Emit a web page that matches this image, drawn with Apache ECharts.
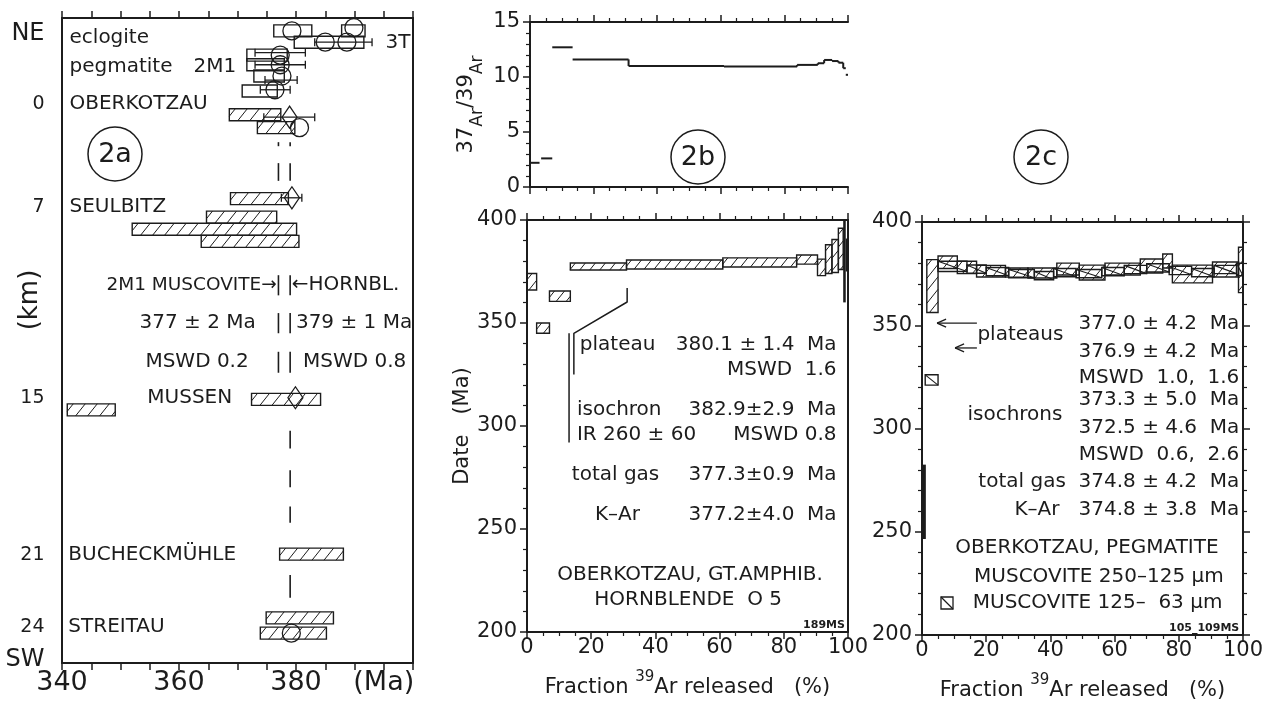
<!DOCTYPE html>
<html><head><meta charset="utf-8">
<script src="https://cdn.jsdelivr.net/npm/echarts/dist/echarts.min.js"></script>
<style>html,body{margin:0;padding:0;background:#fff}#c{width:1272px;height:710px}</style>
</head><body><div id="c"></div><script>
const FONT = 'DejaVu Sans';
const INK = '#1c1c1c';

// ---------- Panel 2a (age vs. position along profile) ----------
const maTicks = [340, 360, 380];
const kmLabels = ['NE', '0', '7', '15', '21', '24', 'SW'];
const kmRows = [1.9, 10.7, 23.4, 47.1, 66.6, 75.5, 79.6];
const stationNames = ['eclogite', 'pegmatite', '2M1', '3T', 'OBERKOTZAU', 'SEULBITZ', 'MUSSEN', 'BUCHECKMÜHLE', 'STREITAU'];
const stationAt = [[341.2, 2.5], [341.2, 6.1], [362.4, 6.1], [395.2, 3.1], [341.2, 10.7], [341.2, 23.4], [354.5, 47.1], [341.0, 66.6], [341.0, 75.5]];
// [age low, age high, row]
const openBoxes2a = [[376.2, 382.7, 1.6], [387.8, 391.8, 1.6], [379.7, 391.6, 3.0], [371.6, 378.5, 4.6], [371.6, 378.0, 5.8], [372.8, 378.0, 7.2], [370.8, 376.8, 9.05]];
const hatchBoxes2a = [[368.6, 377.4, 12.0], [373.4, 379.8, 13.6], [368.8, 378.7, 22.4], [364.7, 376.7, 24.7], [352.0, 380.1, 26.2], [363.8, 380.5, 27.7], [372.4, 384.2, 47.3], [340.9, 349.1, 48.6], [377.2, 388.1, 66.5], [374.9, 386.4, 74.4], [373.9, 385.2, 76.3]];
const errorBars2a = [[383.2, 393.0, 3.0], [373.0, 381.6, 4.3], [373.0, 381.6, 5.8], [374.7, 380.2, 7.7], [373.9, 379.0, 8.9], [374.5, 383.2, 12.3], [377.5, 381.0, 22.3]];
const circles2a = [[379.3, 1.6], [389.9, 1.2], [385.0, 3.0], [388.7, 3.0], [377.3, 4.6], [377.3, 5.8], [377.6, 7.2], [376.4, 8.9], [380.6, 13.6], [379.2, 76.3]];
const diamonds2a = [[378.9, 12.3], [379.3, 22.3], [379.9, 47.1]];
const muscoviteAge = 377, hornblendeAge = 379;
const muscoviteDashRows = [[15.4, 15.9], [18.0, 20.2], [31.9, 34.4], [36.6, 39.1], [41.4, 44.0]];
const hornblendeDashRows = [[15.4, 15.9], [18.0, 20.2], [31.9, 34.4], [36.6, 39.1], [41.4, 44.0], [51.2, 53.4], [56.1, 58.2], [60.6, 62.6], [69.1, 71.9]];

// ---------- Panel 2b (hornblende spectrum) ----------
// [fraction from, fraction to, 37Ar/39Ar]
const ratioSteps = [[0, 3, 2.2], [3.5, 7, 2.6], [7, 13.4, 12.7], [13.4, 31, 11.6], [31, 61, 11.0], [61, 84, 10.95], [84, 90.5, 11.1], [90.5, 92.5, 11.25], [92.5, 95, 11.55], [95, 97, 11.45], [97, 98.5, 11.3], [98.5, 99.3, 10.8], [99.3, 100, 10.2]];
// [fraction from, fraction to, date, half-height]
const hornblendeSteps = [[0, 3, 370, 4], [3, 7, 347.5, 2.5], [7, 13.5, 363, 2.5], [13.5, 31, 377.4, 1.7], [31, 61, 378.4, 2.2], [61, 84, 379.4, 2.2], [84, 90.5, 380.8, 2.2], [90.5, 93, 377, 4], [93, 95, 381, 7], [95, 97, 382.5, 8], [97, 98.5, 386, 10], [98.5, 99.3, 382, 22], [99.3, 100, 383, 8]];
const plateauBracket = [[31.2, 367], [31.2, 360.2], [14.6, 345], [14.6, 325]];
const isochronBracket = [[13.1, 345], [13.1, 292]];

// ---------- Panel 2c (muscovite spectra) ----------
const coarseSteps = [[0, 1.2, 264.5, 18], [1.5, 5, 369, 12.8], [5, 11, 380.5, 3], [11, 17, 378, 3], [17, 26, 376.2, 2.8], [26, 33, 375.5, 2.2], [33, 42, 375.3, 2.4], [42, 49, 377.2, 2.9], [49, 57, 375.5, 3.6], [57, 68, 377.2, 2.9], [68, 75, 378.7, 3.4], [75, 78, 381.1, 3.4], [78, 90.5, 374.8, 4.3], [90.5, 98.6, 377, 3.6], [98.6, 100, 376.8, 11]];
const fineSteps = [[1, 5, 323.5, 2.5], [5, 14, 378.5, 2.5], [14, 20, 377.2, 2], [20, 27, 376, 2], [27, 35, 375, 2], [35, 41, 374, 2], [41, 48, 375.5, 2], [48, 56, 375, 2], [56, 63, 376, 2], [63, 70, 377, 2], [70, 77, 377.8, 2], [77, 84, 376.5, 2], [84, 91, 375.5, 2], [91, 98, 377, 2], [98, 100, 377, 3]];
// [tail fraction, date, tip fraction]
const plateauArrows = [[17.1, 351, 4.7], [17.1, 339, 10.3]];

// ---------- drawing helpers ----------
function hatchLines(rx, ry, w, h, sp, k) {
  const out = [];
  const dx = h / k;
  for (let a = rx - dx + sp * 0.5; a < rx + w; a += sp) {
    let xs = a, ys = ry + h, xe = a + dx, ye = ry;
    if (xs < rx) { ys = ry + h - (rx - a) * k; xs = rx; }
    if (xe > rx + w) { ye = ry + h - (rx + w - a) * k; xe = rx + w; }
    if (xe - xs > 0.6) out.push({ type: 'line', shape: { x1: xs, y1: ys, x2: xe, y2: ye }, style: { stroke: INK, lineWidth: 1 } });
  }
  return out;
}
function boxItem(rx, ry, w, h, mode, sp) {
  const ch = [];
  if (w < 4) {
    ch.push({ type: 'rect', shape: { x: rx, y: ry, width: Math.max(w, 2.5), height: h }, style: { fill: INK } });
    return ch;
  }
  ch.push({ type: 'rect', shape: { x: rx, y: ry, width: w, height: h }, style: { fill: 'none', stroke: INK, lineWidth: 1.4 } });
  if (mode === 'hatch') ch.push(...hatchLines(rx, ry, w, h, sp, 1.25));
  if (mode === 'diag') ch.push({ type: 'line', shape: { x1: rx, y1: ry, x2: rx + w, y2: ry + h }, style: { stroke: INK, lineWidth: 1.1 } });
  return ch;
}
function rowBoxRender(mode) {
  return function (params, api) {
    const a = api.coord([api.value(0), api.value(2)]), b = api.coord([api.value(1), api.value(2)]);
    const h = 12;
    return { type: 'group', children: boxItem(a[0], a[1] - h / 2, b[0] - a[0], h, mode, 12) };
  };
}
function stepBoxRender(mode) {
  return function (params, api) {
    const y = api.value(2), e = api.value(3);
    const a = api.coord([api.value(0), y + e]), b = api.coord([api.value(1), y - e]);
    return { type: 'group', children: boxItem(a[0], a[1], b[0] - a[0], b[1] - a[1], mode, 10) };
  };
}
function errRender(params, api) {
  const a = api.coord([api.value(0), api.value(2)]), b = api.coord([api.value(1), api.value(2)]);
  const c = 4, st = { stroke: INK, lineWidth: 1.3 };
  return { type: 'group', children: [
    { type: 'line', shape: { x1: a[0], y1: a[1], x2: b[0], y2: b[1] }, style: st },
    { type: 'line', shape: { x1: a[0], y1: a[1] - c, x2: a[0], y2: a[1] + c }, style: st },
    { type: 'line', shape: { x1: b[0], y1: b[1] - c, x2: b[0], y2: b[1] + c }, style: st }] };
}
function dashRender(params, api) {
  const a = api.coord([api.value(0), api.value(1)]), b = api.coord([api.value(0), api.value(2)]);
  return { type: 'line', shape: { x1: a[0], y1: a[1], x2: b[0], y2: b[1] }, style: { stroke: INK, lineWidth: 1.6 } };
}
function ratioRender(params, api) {
  const i = params.dataIndex;
  const a = api.coord([api.value(0), api.value(2)]), b = api.coord([api.value(1), api.value(2)]);
  const st = { stroke: INK, lineWidth: 2 };
  const ch = [{ type: 'line', shape: { x1: a[0], y1: a[1], x2: b[0], y2: b[1] }, style: st }];
  if (i > 0) {
    const p = ratioSteps[i - 1];
    if (Math.abs(p[1] - api.value(0)) < 0.01 && Math.abs(p[2] - api.value(2)) < 0.6) {
      const q = api.coord([api.value(0), p[2]]);
      ch.push({ type: 'line', shape: { x1: q[0], y1: q[1], x2: a[0], y2: a[1] }, style: st });
    }
  }
  return { type: 'group', children: ch };
}
function arrowRender(params, api) {
  const s = api.coord([api.value(0), api.value(1)]), t = api.coord([api.value(2), api.value(1)]);
  const st = { stroke: INK, lineWidth: 1.3 };
  return { type: 'group', children: [
    { type: 'line', shape: { x1: s[0], y1: s[1], x2: t[0], y2: t[1] }, style: st },
    { type: 'line', shape: { x1: t[0], y1: t[1], x2: t[0] + 9, y2: t[1] - 4 }, style: st },
    { type: 'line', shape: { x1: t[0], y1: t[1], x2: t[0] + 9, y2: t[1] + 4 }, style: st }] };
}
function labelSeries(xi, yi, items, fontSize) {
  return {
    type: 'scatter', xAxisIndex: xi, yAxisIndex: yi, symbol: 'circle', symbolSize: 1,
    itemStyle: { color: 'rgba(0,0,0,0)', opacity: 1 }, silent: true, clip: false, z: 20,
    label: { show: true, color: INK, opacity: 1, fontFamily: FONT, fontSize: fontSize, distance: 0 },
    data: items.map(it => ({
      value: [it.x, it.y],
      label: Object.assign({ show: true, color: INK, formatter: it.t, position: it.a === 'r' ? 'left' : (it.a === 'c' ? 'inside' : 'right') }, it.s || {})
    }))
  };
}
function custom(xi, yi, data, render, z) {
  return { type: 'custom', xAxisIndex: xi, yAxisIndex: yi, data: data, renderItem: render, clip: true, silent: true, z: z || 5 };
}

// ---------- axes ----------
const AL = { show: true, onZero: false, lineStyle: { color: INK, width: 2 } };
const TICK = { show: true, inside: false, length: 7, lineStyle: { color: INK, width: 1.5 } };
const MINOR = (n) => ({ show: true, splitNumber: n, length: 4, lineStyle: { color: INK, width: 1.2 } });
const NOLAB = { show: false };
const LAB = (m) => ({ show: true, color: INK, fontFamily: FONT, fontSize: 21, margin: m });
function ax(o) { return Object.assign({ type: 'value', axisLine: AL, splitLine: { show: false }, axisTick: TICK, axisLabel: NOLAB }, o); }

const xNameRich = {
  a: { fontFamily: FONT, fontSize: 21, color: INK, verticalAlign: 'bottom', lineHeight: 28 },
  s: { fontFamily: FONT, fontSize: 15, color: INK, verticalAlign: 'top', lineHeight: 28 }
};
const xName = '{a|Fraction }{s|39}{a|Ar released   (%)}';

const xAxes = [
  ax({ gridIndex: 0, position: 'bottom', min: 340, max: 400, interval: 5,
       axisLabel: { show: true, color: INK, fontFamily: FONT, fontSize: 27, margin: 6,
         formatter: v => maTicks.indexOf(v) >= 0 ? String(v) : (v === 395 ? '(Ma)' : '') } }),
  ax({ gridIndex: 0, position: 'top', min: 340, max: 400, interval: 5 }),
  ax({ gridIndex: 1, position: 'bottom', min: 0, max: 100, interval: 20, minorTick: MINOR(4) }),
  ax({ gridIndex: 1, position: 'top', min: 0, max: 100, interval: 20, minorTick: MINOR(4) }),
  ax({ gridIndex: 2, position: 'bottom', min: 0, max: 100, interval: 20, minorTick: MINOR(4), axisLabel: LAB(5),
       name: xName, nameLocation: 'middle', nameGap: 38, nameTextStyle: { rich: xNameRich } }),
  ax({ gridIndex: 2, position: 'top', min: 0, max: 100, interval: 20, minorTick: MINOR(4) }),
  ax({ gridIndex: 3, position: 'bottom', min: 0, max: 100, interval: 20, minorTick: MINOR(4), axisLabel: LAB(5),
       name: xName, nameLocation: 'middle', nameGap: 38, nameTextStyle: { rich: xNameRich } }),
  ax({ gridIndex: 3, position: 'top', min: 0, max: 100, interval: 20, minorTick: MINOR(4) })
];
const yAxes = [
  ax({ gridIndex: 0, position: 'left', min: 0, max: 80, inverse: true, axisTick: { show: false } }),
  ax({ gridIndex: 0, position: 'right', min: 0, max: 80, inverse: true, axisTick: { show: false } }),
  ax({ gridIndex: 1, position: 'left', min: 0, max: 15, interval: 5, minorTick: MINOR(5), axisLabel: LAB(10),
       name: '{n|37}{s|Ar}{n|/39}{s|Ar}', nameLocation: 'middle', nameRotate: 90, nameGap: 44,
       nameTextStyle: { rich: {
         n: { fontFamily: FONT, fontSize: 21, color: INK, verticalAlign: 'top', lineHeight: 30 },
         s: { fontFamily: FONT, fontSize: 17, color: INK, verticalAlign: 'bottom', lineHeight: 30 } } } }),
  ax({ gridIndex: 2, position: 'left', min: 200, max: 400, interval: 50, minorTick: MINOR(5), axisLabel: LAB(10),
       name: 'Date   (Ma)', nameLocation: 'middle', nameRotate: 90, nameGap: 52,
       nameTextStyle: { fontFamily: FONT, fontSize: 21, color: INK } }),
  ax({ gridIndex: 2, position: 'right', min: 200, max: 400, axisTick: { show: false } }),
  ax({ gridIndex: 3, position: 'left', min: 200, max: 400, interval: 50, minorTick: MINOR(5), axisLabel: LAB(10) }),
  ax({ gridIndex: 3, position: 'right', min: 200, max: 400, interval: 50, minorTick: MINOR(5) })
];

// ---------- series ----------
const series = [];
series.push(custom(0, 0, openBoxes2a, rowBoxRender('open')));
series.push(custom(0, 0, hatchBoxes2a, rowBoxRender('hatch')));
series.push(custom(0, 0, errorBars2a, errRender));
series.push(custom(0, 0,
  muscoviteDashRows.map(r => [muscoviteAge, r[0], r[1]]).concat(hornblendeDashRows.map(r => [hornblendeAge, r[0], r[1]])),
  dashRender));
series.push({ type: 'scatter', xAxisIndex: 0, yAxisIndex: 0, data: circles2a, symbol: 'circle', symbolSize: 18, silent: true, z: 6,
  itemStyle: { color: 'rgba(0,0,0,0)', borderColor: INK, borderWidth: 1.3, opacity: 1 } });
series.push({ type: 'scatter', xAxisIndex: 0, yAxisIndex: 0, data: diamonds2a, symbol: 'diamond', symbolSize: [15, 22], silent: true, z: 6,
  itemStyle: { color: 'rgba(0,0,0,0)', borderColor: INK, borderWidth: 1.3, opacity: 1 } });
series.push(labelSeries(0, 0, stationNames.map((n, i) => ({ x: stationAt[i][0], y: stationAt[i][1], t: n })), 20));
series.push(labelSeries(0, 0, kmLabels.map((k, i) => ({ x: 340, y: kmRows[i], t: k, a: 'r',
  s: { distance: 17, fontSize: (k === 'NE' || k === 'SW') ? 24 : 19 } })), 19));
series.push(labelSeries(0, 0, [
  { x: 376.8, y: 33.1, t: '2M1 MUSCOVITE→', a: 'r', s: { fontSize: 18.5 } },
  { x: 379.2, y: 33.1, t: '←HORNBL.' },
  { x: 373.2, y: 37.8, t: '377 ± 2 Ma', a: 'r' },
  { x: 379.9, y: 37.8, t: '379 ± 1 Ma' },
  { x: 372.0, y: 42.7, t: 'MSWD 0.2', a: 'r' },
  { x: 381.1, y: 42.7, t: 'MSWD 0.8' }
], 20));

// 2b
series.push(custom(2, 2, ratioSteps, ratioRender));
series.push(custom(4, 3, hornblendeSteps, stepBoxRender('hatch')));
series.push({ type: 'line', xAxisIndex: 4, yAxisIndex: 3, data: plateauBracket, symbol: 'none', silent: true, lineStyle: { color: INK, width: 1.5 } });
series.push({ type: 'line', xAxisIndex: 4, yAxisIndex: 3, data: isochronBracket, symbol: 'none', silent: true, lineStyle: { color: INK, width: 1.5 } });
series.push(labelSeries(4, 3, [
  { x: 16.3, y: 339.3, t: 'plateau' },
  { x: 96.6, y: 339.3, t: '380.1 ± 1.4  Ma', a: 'r' },
  { x: 96.6, y: 327.2, t: 'MSWD  1.6', a: 'r' },
  { x: 15.4, y: 307.8, t: 'isochron' },
  { x: 96.6, y: 307.8, t: '382.9±2.9  Ma', a: 'r' },
  { x: 15.4, y: 295.6, t: 'IR 260 ± 60' },
  { x: 96.6, y: 295.6, t: 'MSWD 0.8', a: 'r' },
  { x: 13.8, y: 276.2, t: 'total gas' },
  { x: 96.6, y: 276.2, t: '377.3±0.9  Ma', a: 'r' },
  { x: 21.0, y: 256.8, t: 'K–Ar' },
  { x: 96.6, y: 256.8, t: '377.2±4.0  Ma', a: 'r' },
  { x: 50.8, y: 227.7, t: 'OBERKOTZAU, GT.AMPHIB.', a: 'c' },
  { x: 50.2, y: 215.5, t: 'HORNBLENDE  O 5', a: 'c' },
  { x: 99.2, y: 203.4, t: '189MS', a: 'r', s: { fontSize: 11, fontWeight: 'bold' } }
], 20));

// 2c
series.push(custom(6, 5, coarseSteps, stepBoxRender('hatch')));
series.push(custom(6, 5, fineSteps, stepBoxRender('diag')));
series.push(custom(6, 5, plateauArrows, arrowRender));
series.push(labelSeries(6, 5, [
  { x: 17.1, y: 345.3, t: 'plateaus' },
  { x: 99, y: 350.6, t: '377.0 ± 4.2  Ma', a: 'r' },
  { x: 99, y: 337.0, t: '376.9 ± 4.2  Ma', a: 'r' },
  { x: 99, y: 324.5, t: 'MSWD  1.0,  1.6', a: 'r' },
  { x: 43.9, y: 306.5, t: 'isochrons', a: 'r' },
  { x: 99, y: 313.8, t: '373.3 ± 5.0  Ma', a: 'r' },
  { x: 99, y: 300.2, t: '372.5 ± 4.6  Ma', a: 'r' },
  { x: 99, y: 287.2, t: 'MSWD  0.6,  2.6', a: 'r' },
  { x: 99, y: 274.1, t: 'total gas  374.8 ± 4.2  Ma', a: 'r' },
  { x: 99, y: 260.5, t: 'K–Ar   374.8 ± 3.8  Ma', a: 'r' },
  { x: 51.4, y: 242.1, t: 'OBERKOTZAU, PEGMATITE', a: 'c' },
  { x: 55.1, y: 228.0, t: 'MUSCOVITE 250–125 µm', a: 'c' },
  { x: 54.7, y: 215.5, t: 'MUSCOVITE 125–  63 µm', a: 'c' },
  { x: 99, y: 203.4, t: '105_109MS', a: 'r', s: { fontSize: 11, fontWeight: 'bold' } }
], 20));

// ---------- annotations ----------
function ring(cx, cy, txt) {
  return [
    { type: 'circle', shape: { cx: cx, cy: cy, r: 27 }, style: { fill: 'none', stroke: INK, lineWidth: 1.5 }, silent: true },
    { type: 'text', x: cx, y: cy + 1, silent: true, style: { text: txt, fontFamily: FONT, fontSize: 27, fill: INK, align: 'center', verticalAlign: 'middle' } }
  ];
}
const graphic = [].concat(
  ring(115, 154, '2a'), ring(698, 157, '2b'), ring(1041, 157, '2c'),
  [{ type: 'text', x: 30, y: 300, rotation: Math.PI / 2, silent: true,
     style: { text: '(km)', fontFamily: FONT, fontSize: 26, fill: INK, align: 'center', verticalAlign: 'middle' } },
   { type: 'rect', shape: { x: 941, y: 597, width: 12, height: 12 }, style: { fill: 'none', stroke: INK, lineWidth: 1.3 }, silent: true },
   { type: 'line', shape: { x1: 941, y1: 597, x2: 953, y2: 609 }, style: { stroke: INK, lineWidth: 1.2 }, silent: true }]
);

const chart = echarts.init(document.getElementById('c'), null, { width: 1272, height: 710 });
chart.setOption({
  animation: false,
  backgroundColor: '#ffffff',
  textStyle: { fontFamily: FONT, color: INK },
  grid: [
    { left: 62, top: 18, width: 351, height: 645, outerBoundsMode: 'none' },
    { left: 530, top: 22, width: 318, height: 165, outerBoundsMode: 'none' },
    { left: 527, top: 220, width: 321, height: 412, outerBoundsMode: 'none' },
    { left: 922, top: 222, width: 321, height: 413, outerBoundsMode: 'none' }
  ],
  xAxis: xAxes,
  yAxis: yAxes,
  series: series,
  graphic: graphic
});
</script></body></html>
